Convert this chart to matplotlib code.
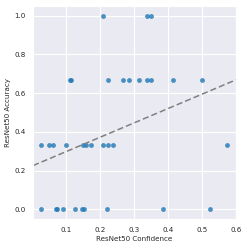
import numpy as np
import matplotlib
matplotlib.use('Agg')
import matplotlib.pyplot as plt
import seaborn as sns

# confidence / accuracy pairs
conf_100 = [0.207, 0.338, 0.350]
conf_067 = [0.110, 0.113, 0.223, 0.268, 0.285, 0.314, 0.338, 0.350, 0.414, 0.500]
conf_033 = [0.024, 0.050, 0.060, 0.098, 0.150, 0.158, 0.172, 0.207, 0.224, 0.237, 0.574]
conf_000 = [0.025, 0.069, 0.071, 0.090, 0.125, 0.146, 0.151, 0.219, 0.384, 0.522]

confidence = conf_100 + conf_067 + conf_033 + conf_000
accuracy = ([1.0] * len(conf_100) + [2 / 3] * len(conf_067)
            + [1 / 3] * len(conf_033) + [0.0] * len(conf_000))

# trend line
fit_intercept = 0.225
fit_slope = 0.74

sns.set_style('darkgrid')

fig = plt.figure(figsize=(2.49, 2.49), dpi=100)
ax = fig.add_axes([0.133, 0.12, 0.815, 0.856])

ax.scatter(confidence, accuracy, s=12, color='#1f77b4', alpha=0.8, linewidths=0)
ax.axline((0, fit_intercept), slope=fit_slope, color='gray', ls='--', lw=1.1,
          dashes=(4, 2))

ax.set_xlim(0.002, 0.6)
ax.set_ylim(-0.05, 1.05)
ax.set_xticks([0.1, 0.2, 0.3, 0.4, 0.5, 0.6])
ax.set_yticks([0.0, 0.2, 0.4, 0.6, 0.8, 1.0])
ax.tick_params(labelsize=5.1, pad=2)
ax.set_xlabel('ResNet50 Confidence', fontsize=5.1, labelpad=2)
ax.set_ylabel('ResNet50 Accuracy', fontsize=5.1, labelpad=2)

fig.savefig('out.png', dpi=100)
